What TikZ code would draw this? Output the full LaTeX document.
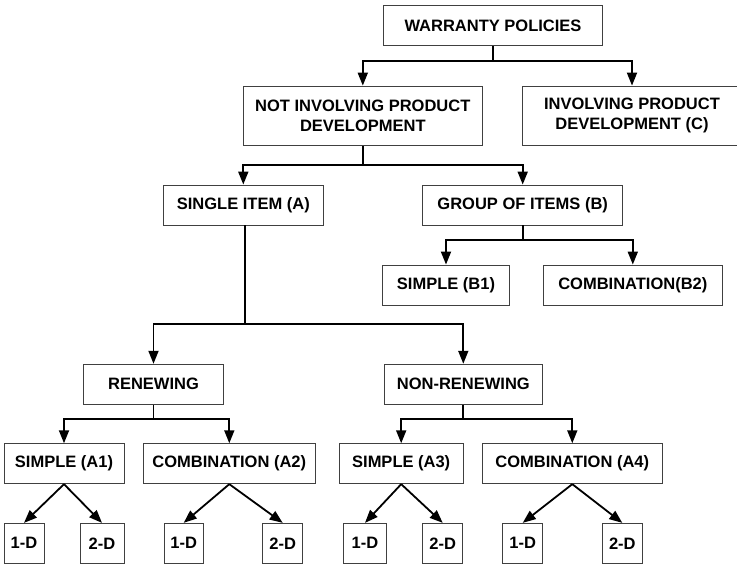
\documentclass[tikz,border=0pt]{standalone}
\usepackage{fontspec}
\setmainfont{Liberation Sans}
\usetikzlibrary{arrows.meta}
\begin{document}
\begin{tikzpicture}[x=1pt,y=-1pt,
  box/.style={draw=black!75, line width=0.9pt, inner sep=0pt, align=center,
    font=\fontsize{16.5}{20}\selectfont\bfseries, minimum height=40pt},
  conn/.style={line width=1.8pt, line join=miter},
  arr/.style={conn, -{Triangle[length=13pt,width=10pt]}}]
\clip (0,0) rectangle (737,563);
\fill[white] (0,0) rectangle (737,563);

% top levels
\node[box, minimum width=219.4pt] (wp) at (493,25.8) {WARRANTY POLICIES};
\node[box, minimum width=239pt, minimum height=59.7pt] (notinv) at (362.8,115.9)
  {NOT INVOLVING PRODUCT\\DEVELOPMENT};
\node[box, minimum width=218.6pt, minimum height=59.7pt] (inv) at (632,115.9) {};
\node[font=\fontsize{16.5}{20}\selectfont\bfseries, align=center] (invtext) at (632,115.9)
  {INVOLVING PRODUCT\\DEVELOPMENT (C)};
\node[box, minimum width=160pt] (single) at (243.3,205) {SINGLE ITEM (A)};
\node[box, minimum width=200pt] (group) at (522.7,205) {GROUP OF ITEMS (B)};
\node[box, minimum width=126.6pt] (b1) at (446,285) {SIMPLE (B1)};
\node[box, minimum width=179pt] (b2) at (632.8,285) {COMBINATION(B2)};
\node[box, minimum width=139.6pt] (ren) at (153.5,384.2) {RENEWING};
\node[box, minimum width=158.7pt] (nonren) at (463.3,384.2) {NON-RENEWING};
\node[box, minimum width=120pt] (a1) at (64,463.7) {SIMPLE (A1)};
\node[box, minimum width=171.3pt] (a2) at (229.3,463.7) {COMBINATION (A2)};
\node[box, minimum width=124.3pt] (a3) at (401.2,463.7) {SIMPLE (A3)};
\node[box, minimum width=180pt] (a4) at (572.3,463.7) {COMBINATION (A4)};

% dimension boxes
\node[box, minimum width=40pt] (a1x) at (24,543.3) {1-D};
\node[box, minimum width=44pt] (a1y) at (102,543.3) {2-D};
\node[box, minimum width=39.3pt] (a2x) at (183.7,543.3) {1-D};
\node[box, minimum width=40pt] (a2y) at (282.7,543.3) {2-D};
\node[box, minimum width=43.4pt] (a3x) at (365,543.3) {1-D};
\node[box, minimum width=40pt] (a3y) at (442.7,543.3) {2-D};
\node[box, minimum width=40pt] (a4x) at (522.7,543.3) {1-D};
\node[box, minimum width=40pt] (a4y) at (622.3,543.3) {2-D};

% branch levels
\coordinate (L0) at (0,61);
\coordinate (L1) at (0,165);
\coordinate (L2) at (0,240);
\coordinate (L3) at (0,324.3);
\coordinate (L4) at (0,418.7);

% tree connectors
\draw[conn] (wp.south) -- (wp.south |- L0);
\draw[arr] (wp.south |- L0) -| (notinv.north);
\draw[arr] (wp.south |- L0) -| (inv.north);

\draw[conn] (notinv.south) -- (notinv.south |- L1);
\draw[arr] (notinv.south |- L1) -| (single.north);
\draw[arr] (notinv.south |- L1) -| (group.north);

\draw[conn] (group.south) -- (group.south |- L2);
\draw[arr] (group.south |- L2) -| (b1.north);
\draw[arr] (group.south |- L2) -| (b2.north);

\draw[conn] ([xshift=1.7pt]single.south) -- ([xshift=1.7pt]single.south |- L3);
\draw[arr] ([xshift=1.7pt]single.south |- L3) -| (ren.north);
\draw[arr] ([xshift=1.7pt]single.south |- L3) -| (nonren.north);

\draw[conn] (ren.south) -- (ren.south |- L4);
\draw[arr] (ren.south |- L4) -| (a1.north);
\draw[arr] (ren.south |- L4) -| (a2.north);

\draw[conn] (nonren.south) -- (nonren.south |- L4);
\draw[arr] (nonren.south |- L4) -| (a3.north);
\draw[arr] (nonren.south |- L4) -| (a4.north);

% diagonal connectors
\draw[arr] (a1.south) -- (a1x.north);
\draw[arr] (a1.south) -- (a1y.north);
\draw[arr] (a2.south) -- (a2x.north);
\draw[arr] (a2.south) -- (a2y.north);
\draw[arr] (a3.south) -- (a3x.north);
\draw[arr] (a3.south) -- (a3y.north);
\draw[arr] (a4.south) -- (a4x.north);
\draw[arr] (a4.south) -- (a4y.north);
\end{tikzpicture}
\end{document}
